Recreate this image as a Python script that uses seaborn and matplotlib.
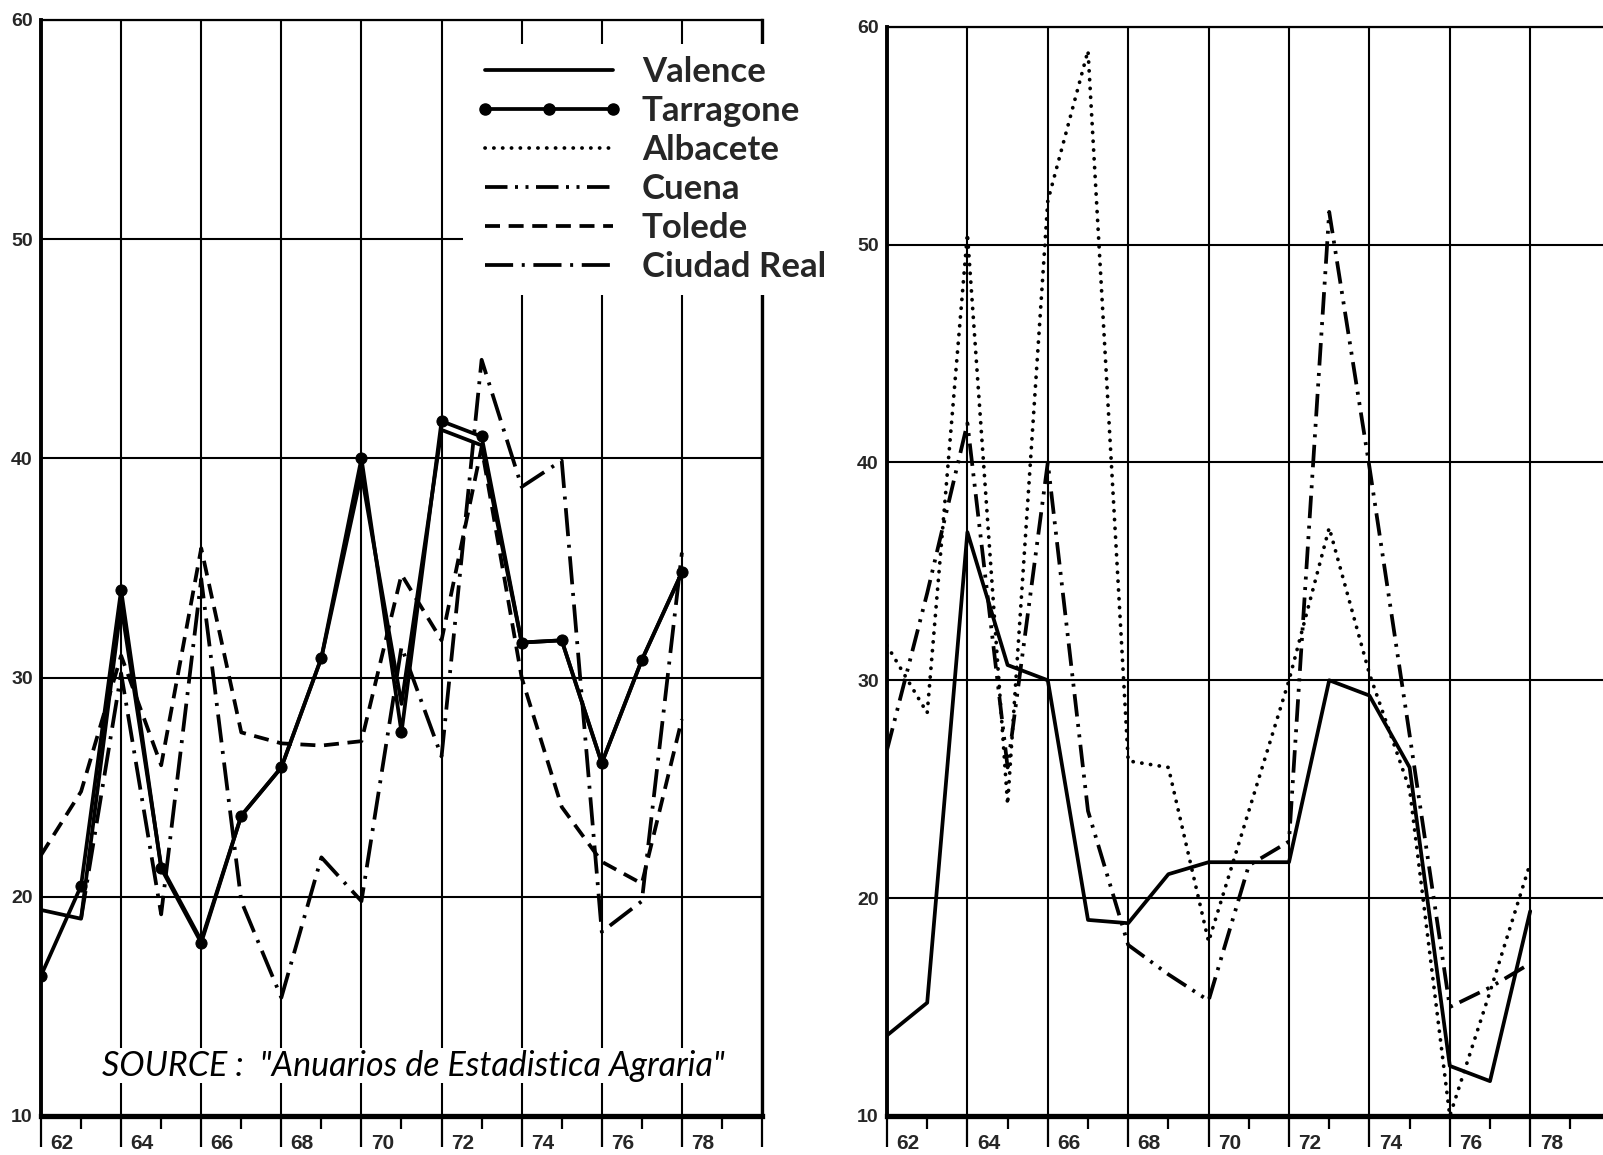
import numpy as np
import pandas as pd
import matplotlib
matplotlib.use("Agg")
import matplotlib.pyplot as plt
from matplotlib.lines import Line2D
from matplotlib.transforms import ScaledTranslation
import seaborn as sns

# ---------------- data (years 1962-1978) ----------------
years = list(range(62, 79))

left_valence = [19.4, 19.0, 33.3, 21.4, 18.0, 23.7, 25.9, 30.9, 39.3, 28.8,
                41.3, 40.6, 31.6, 31.7, 26.1, 30.8, 34.8]
left_tarragone = [16.4, 20.5, 34.0, 21.3, 17.9, 23.7, 25.9, 30.9, 40.0, 27.5,
                  41.7, 41.0, 31.6, 31.7, 26.1, 30.8, 34.8]
left_tolede = [21.9, 24.8, 31.0, 26.0, 35.9, 27.5, 27.0, 26.9, 27.1, 34.7,
               31.7, 40.5, 30.0, 24.1, 21.6, 20.6, 28.1]
left_ciudad_real = [np.nan, 19.0, 30.2, 19.2, 34.5, 19.8, 15.4, 21.8, 19.8, 31.4,
                    26.4, 44.5, 38.7, 39.9, 18.4, 19.8, 35.7]

right_valence = [13.7, 15.2, 36.8, 30.7, 30.0, 19.0, 18.85, 21.1, 21.65, 21.65,
                 21.65, 30.0, 29.3, 26.0, 12.3, 11.6, 19.4]
right_albacete = [31.6, 28.5, 50.5, 24.3, 52.0, 58.9, 26.3, 26.0, 18.0, 24.0,
                  30.0, 37.0, 30.3, 25.0, 10.0, 15.7, 21.6]
right_cuena = [26.8, 34.0, 41.8, 26.0, 40.0, 24.0, 17.85, 16.5, 15.3, 21.5,
               22.6, 51.5, 39.8, 27.5, 15.0, 15.9, 17.0]

legend_labels = ["Valence", "Tarragone", "Albacete", "Cuena", "Tolede", "Ciudad Real"]
xtick_values = list(range(62, 81, 2))
xtick_labels = [str(v) for v in range(62, 79, 2)] + [""]
ytick_values = [10, 20, 30, 40, 50, 60]
source_text = 'SOURCE :  "Anuarios de Estadistica Agraria"'

# ---------------- styling ----------------
sns.set_theme(style="white")
plt.rcParams["font.family"] = ["DejaVu Sans"]

LW = 2.7
STYLES = {
    "Valence": dict(linestyle="-"),
    "Tarragone": dict(linestyle="-", marker="o", markersize=8,
                      markeredgecolor="black", markerfacecolor="black"),
    "Albacete": dict(linestyle=(0, (0.05, 2.3)), dash_capstyle="round"),
    "Cuena": dict(linestyle=(0, (6, 2.0, 0.8, 2.0, 0.8, 2.0))),
    "Tolede": dict(linestyle=(0, (4.0, 2.3))),
    "Ciudad Real": dict(linestyle=(0, (7.5, 2.3, 0.8, 2.3))),
}

fig = plt.figure(figsize=(16.03, 11.55), dpi=100)
W, H = 1603.0, 1155.0
axL = fig.add_axes([41 / W, 1 - 1116 / H, 721 / W, (1116 - 20) / H])
axR = fig.add_axes([887 / W, 1 - 1116 / H, 723.6 / W, (1116 - 26.7) / H])


def draw(ax, values, name):
    df = pd.DataFrame({"year": years, "value": values}).dropna()
    sns.lineplot(data=df, x="year", y="value", ax=ax, color="black",
                 linewidth=LW, estimator=None, errorbar=None, sort=False,
                 legend=False, **STYLES[name])


draw(axL, left_tolede, "Tolede")
draw(axL, left_ciudad_real, "Ciudad Real")
draw(axL, left_valence, "Valence")
draw(axL, left_tarragone, "Tarragone")

draw(axR, right_albacete, "Albacete")
draw(axR, right_cuena, "Cuena")
draw(axR, right_valence, "Valence")

shift = ScaledTranslation(0.21, 0, fig.dpi_scale_trans)
for ax in (axL, axR):
    ax.set_xlim(62, 80)
    ax.set_ylim(10, 60)
    ax.set_xlabel("")
    ax.set_ylabel("")
    ax.set_axisbelow(True)
    ax.set_xticks(xtick_values)
    ax.set_xticklabels(xtick_labels)
    ax.set_xticks(list(range(63, 80, 2)), minor=True)
    ax.set_yticks(ytick_values)
    ax.set_yticklabels([str(v) for v in ytick_values])
    ax.tick_params(axis="x", which="major", bottom=True, direction="out",
                   length=22, width=1.6, pad=-9, labelsize=15, color="black")
    ax.tick_params(axis="x", which="minor", bottom=True, direction="out",
                   length=9, width=1.6, color="black")
    ax.tick_params(axis="y", length=0, pad=6, labelsize=14)
    ax.grid(True, which="major", color="black", linewidth=1.5)
    for lab in ax.get_xticklabels() + ax.get_yticklabels():
        lab.set_fontweight("bold")
        lab.set_family(["Liberation Sans"])
    for lab in ax.get_xticklabels():
        lab.set_transform(lab.get_transform() + shift)
    ax.spines["left"].set_linewidth(2.8)
    ax.spines["bottom"].set_linewidth(3.8)
    ax.spines["top"].set_linewidth(1.6)
    ax.spines["right"].set_linewidth(2.4)
    for s in ax.spines.values():
        s.set_color("black")
        s.set_visible(True)
    ax.set_facecolor("white")

# legend
handles = [Line2D([], [], color="black", linewidth=LW, **STYLES[n]) for n in legend_labels]
leg = axL.legend(handles, legend_labels, loc="upper left",
                 bbox_to_anchor=(0.585, 0.978), frameon=True, fancybox=False,
                 framealpha=1, facecolor="white", edgecolor="white",
                 prop=dict(family="Lato", size=25, weight="bold"), handlelength=4.29,
                 handletextpad=0.52, labelspacing=0.2, borderpad=0.35,
                 borderaxespad=0, numpoints=3)
leg.get_frame().set_linewidth(0)

axL.text(71.3, 12.3, source_text, ha="center", va="center", fontsize=24.5,
         style="italic", family="Lato", color="black",
         bbox=dict(facecolor="white", edgecolor="none", pad=1), zorder=4)

fig.savefig("out.png", dpi=100, facecolor="white")
